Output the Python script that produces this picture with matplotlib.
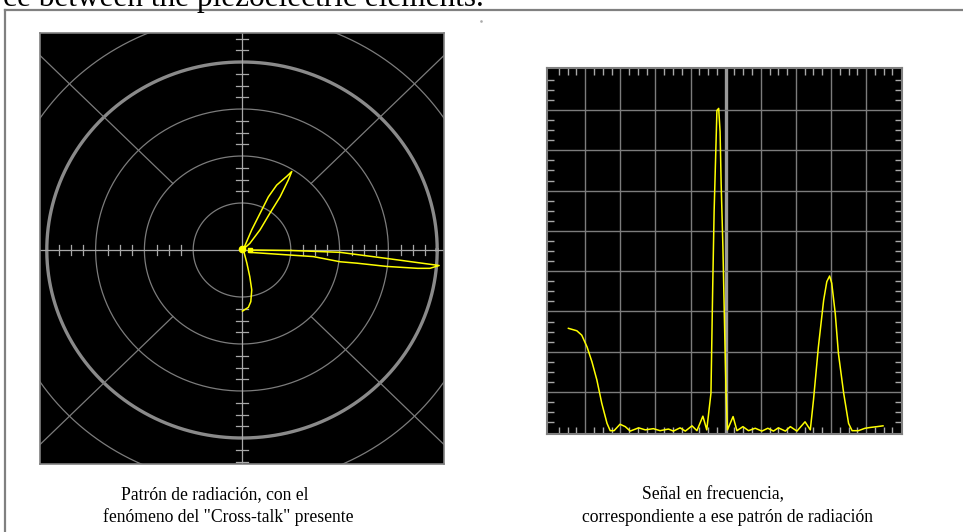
import numpy as np
import matplotlib
matplotlib.use("Agg")
import matplotlib.pyplot as plt
from matplotlib.ticker import MultipleLocator

W, H = 963, 532

# radiation pattern, cartesian coordinates in ring units (1 ring = 1 unit)
lobe_up_x = [0.03, 0.20, 0.37, 0.54, 0.71, 0.92, 1.02, 0.95, 0.78, 0.57, 0.37, 0.16, 0.03]
lobe_up_y = [0.02, 0.43, 0.78, 1.13, 1.38, 1.57, 1.67, 1.49, 1.13, 0.78, 0.43, 0.14, 0.02]
lobe_main_x = [0.20, 1.00, 2.01, 2.97, 4.04, 3.85, 3.60, 2.97, 2.35, 2.01, 1.46, 0.16]
lobe_main_y = [0.00, -0.01, -0.05, -0.18, -0.33, -0.39, -0.39, -0.35, -0.28, -0.25, -0.14, -0.05]
lobe_down_x = [0.03, 0.10, 0.16, 0.20, 0.18, 0.13, 0.01]
lobe_down_y = [0.00, -0.28, -0.57, -0.85, -1.10, -1.22, -1.30]

# frequency spectrum, in screen divisions
freq = [0.52, 0.76, 0.90, 1.05, 1.19, 1.33, 1.47, 1.62, 1.71, 1.82, 1.99, 2.14,
        2.28, 2.52, 2.71, 2.94, 3.13, 3.37, 3.51, 3.70, 3.85, 4.04, 4.18, 4.35,
        4.46, 4.58, 4.63, 4.67, 4.75, 4.80, 4.84, 4.87, 4.92, 4.96, 5.01, 5.05,
        5.21, 5.32, 5.49, 5.65, 5.84, 6.03, 6.20, 6.36, 6.50, 6.70, 6.84, 7.03,
        7.26, 7.41, 7.50, 7.64, 7.79, 7.88, 7.96, 8.02, 8.12, 8.21, 8.36, 8.50,
        8.60, 8.78, 8.97, 9.12, 9.31, 9.48]
amp = [2.58, 2.52, 2.41, 2.12, 1.75, 1.30, 0.72, 0.22, 0.04, 0.04, 0.20, 0.14,
       0.03, 0.11, 0.06, 0.09, 0.04, 0.08, 0.03, 0.11, 0.03, 0.16, 0.04, 0.40,
       0.06, 0.97, 3.61, 5.48, 7.99, 8.04, 7.46, 6.18, 4.61, 2.95, 0.97, 0.06,
       0.39, 0.04, 0.14, 0.04, 0.10, 0.03, 0.10, 0.03, 0.11, 0.03, 0.14, 0.03,
       0.26, 0.06, 0.80, 2.12, 3.28, 3.74, 3.88, 3.70, 2.95, 1.96, 0.97, 0.22,
       0.04, 0.04, 0.10, 0.12, 0.14, 0.16]

caption_left = ["Patrón de radiación, con el", "fenómeno del \"Cross-talk\" presente"]
caption_right = ["Señal en frecuencia,", "correspondiente a ese patrón de radiación"]
top_line = "ce between the piezoelectric elements."

YELLOW = "#ffff00"
GRID = "#7c7c7c"
AXIS = "#a8a8a8"
FRAME = "#808080"


def fig_box(x0, y0, x1, y1):
    # pixel box -> figure fraction rectangle
    return [x0 / W, 1 - y1 / H, (x1 - x0) / W, (y1 - y0) / H]


fig = plt.figure(figsize=(W / 100, H / 100), dpi=100)
fig.patch.set_facecolor("white")

# page frame
fig.add_artist(plt.Line2D([5 / W, 1.0], [1 - 10 / H, 1 - 10 / H], color=FRAME, lw=1.6))
fig.add_artist(plt.Line2D([5 / W, 5 / W], [1 - 10 / H, 0.0], color=FRAME, lw=1.6))
fig.add_artist(plt.Line2D([481 / W], [1 - 21 / H], marker="s", ms=0.8, color="#aaaaaa", lw=0))
fig.text(484 / W, 1 - 6 / H, top_line, ha="right", va="baseline",
         family="Liberation Serif", fontsize=22.5, color="black")

# ---- polar pattern -------------------------------------------------------
ax1 = fig.add_axes(fig_box(40, 33, 444, 464))
ax1.set_facecolor("black")
ax1.set_xlim(-202 / 48.8, 202 / 48.8)
ax1.set_ylim(-214 / 47, 217 / 47)
ax1.set_xticks([])
ax1.set_yticks([])
for s in ax1.spines.values():
    s.set_color(FRAME)
    s.set_linewidth(1.2)

t = np.linspace(0, 2 * np.pi, 400)
for r in [1, 2, 3, 5]:
    ax1.plot(r * np.cos(t), r * np.sin(t), color=GRID, lw=0.9)
ax1.plot(4 * np.cos(t), 4 * np.sin(t), color="#8a8a8a", lw=2.4)
for a in [45, 135, 225, 315]:
    c, s_ = np.cos(np.radians(a)), np.sin(np.radians(a))
    ax1.plot([2 * c, 8 * c], [2 * s_, 8 * s_], color=GRID, lw=0.9)
ax1.axhline(0, color=AXIS, lw=0.9)
ax1.axvline(0, color=AXIS, lw=0.9)

steps = [v for v in np.arange(1.25, 5.0, 0.25) if v % 1 != 0]
for v in steps:
    for sgn in (-1, 1):
        ax1.plot([sgn * v, sgn * v], [-0.11, 0.11], color=AXIS, lw=0.9)
        ax1.plot([-0.125, 0.125], [sgn * v, sgn * v], color=AXIS, lw=0.9)

for xs, ys in [(lobe_up_x, lobe_up_y), (lobe_main_x, lobe_main_y), (lobe_down_x, lobe_down_y)]:
    ax1.plot(xs, ys, color=YELLOW, lw=1.1, solid_joinstyle="round")
ax1.plot([0.0], [0.02], "o", color=YELLOW, ms=4.5)
ax1.plot([0.16], [0.0], "s", color=YELLOW, ms=3)

# ---- spectrum ------------------------------------------------------------
ax2 = fig.add_axes(fig_box(547, 67.7, 902.3, 434.3))
ax2.set_facecolor("black")
ax2.set_xlim(-0.09, 10.03)
ax2.set_ylim(-0.05, 9.05)
ax2.xaxis.set_major_locator(MultipleLocator(1))
ax2.yaxis.set_major_locator(MultipleLocator(1))
ax2.xaxis.set_minor_locator(MultipleLocator(0.25))
ax2.yaxis.set_minor_locator(MultipleLocator(0.25))
ax2.tick_params(which="major", length=0, labelbottom=False, labelleft=False)
ax2.tick_params(which="minor", direction="in", length=5, width=1.0, color=AXIS,
                top=True, right=True, bottom=True, left=True)
for s in ax2.spines.values():
    s.set_color(FRAME)
    s.set_linewidth(1.5)
for i in range(1, 10):
    if i == 5:
        ax2.axvline(i, color="#9a9a9a", lw=2.4, zorder=1)
    else:
        ax2.axvline(i, color=GRID, lw=1.0, zorder=1)
for j in range(1, 9):
    ax2.axhline(j, color=GRID, lw=1.0, zorder=1)
ax2.plot(freq, amp, color=YELLOW, lw=1.1, zorder=3)

# ---- captions ------------------------------------------------------------
cap_kw = dict(family="Liberation Serif", fontsize=12.7, color="black", va="baseline")
fig.text(215 / W, 1 - 499 / H, caption_left[0], ha="center", **cap_kw)
fig.text(103 / W, 1 - 522 / H, caption_left[1], ha="left", **cap_kw)
fig.text(713 / W, 1 - 499 / H, caption_right[0], ha="center", **cap_kw)
fig.text(582 / W, 1 - 522 / H, caption_right[1], ha="left", **cap_kw)

fig.savefig("out.png", dpi=100, facecolor="white")
